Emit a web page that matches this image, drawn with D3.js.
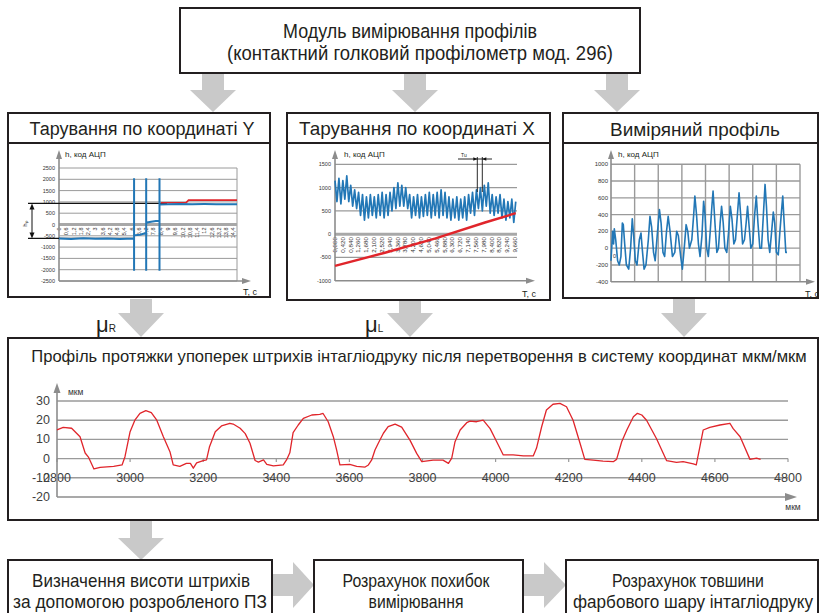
<!DOCTYPE html>
<html>
<head>
<meta charset="utf-8">
<script src="https://cdn.jsdelivr.net/npm/d3@7"></script>
<style>
  body { margin: 0; background: #fff; }
  svg { display: block; }
</style>
</head>
<body>
<svg id="scheme" width="820" height="613"></svg>
<script>
// ---------- Data ----------
// Profile after conversion to µm/µm coordinates
const profileX = [2800,2817,2840,2863,2877,2886,2901,2918,2955,2978,2986,3000,3013,3027,3043,3058,3073,3091,3109,3118,
  3136,3154,3165,3173,3182,3200,3209,3217,3233,3250,3273,3282,3301,3315,3328,3342,3351,3365,3374,3392,
  3419,3428,3437,3446,3460,3474,3497,3519,3528,3542,3556,3565,3574,3601,3620,3643,3652,3661,3670,3679,
  3693,3706,3725,3743,3766,3784,3798,3829,3856,3871,3880,3889,3903,3921,3930,3948,3966,3985,4003,4021,
  4048,4076,4103,4112,4126,4139,4157,4176,4194,4212,4231,4244,4267,4294,4322,4331,4345,4359,4377,4388,
  4400,4413,4440,4468,4495,4513,4541,4549,4559,4568,4586,4614,4641,4650,4669,4696,4714,4725];
const profileY = [15,16.3,15.8,11.4,2.9,0.8,-5.4,-4.6,-4,-3.3,1,14,20,23.6,25,24,20,11.4,3.6,-3.3,
  -4,-2.5,-2.5,-5,-2.2,-1,-0.7,6,14,17,18.4,18,15.8,13,8,-1,-1.8,-0.7,-3,-3.8,
  -3.3,-0.7,3,13.5,17.5,21,22.7,23,23.5,19.2,11.4,4.5,-3.3,-3,-4,-4.4,-3.3,-0.7,4.5,8,
  13.2,16.6,18,16.4,9.5,2.7,-1.6,-0.8,-0.8,-2.5,0.2,8.8,14.9,18.7,19.5,19.2,20,15.6,8.8,1.9,
  1.9,1.4,1.4,5.5,16.6,25.3,28.3,28.8,27,20,8,-0.4,-0.8,-1.3,-1.6,-0.4,8.8,14.9,21.8,23.6,
  22.7,20,10.5,-1.1,-2,-1.6,-2.8,-3.3,6.2,14.9,16.3,17.5,18.4,15.6,11.4,-0.4,0.2,-0.4];
const profileYTicks = [30, 20, 10, 0, -10, -20];
const profileXTicks = [2800, 3000, 3200, 3400, 3600, 3800, 4000, 4200, 4400, 4600, 4800];

// Calibration along Y (ADC code vs time, s)
const calYTicks = [2500, 2000, 1500, 1000, 500, 0, -500, -1000, -1500, -2000, -2500];
const calYLabels = ["0","0,6","1,2","1,8","2,4","3","3,6","4,2","4,8","5,4","6","6,6","7,2","7,8","8,4",
  "9","9,6","10,2","10,8","11,4","12","12,6","13,2","13,8","14,4"];
const calYSignalT = [0,1,2,3,4,5,6.2,6.2,6.2,6.2,6.7,7.2,7.2,7.2,7.2,7.6,8.0,8.3,8.3,8.3,8.3,9,10,11,12,13,14.7];
const calYSignalV = [-620,-640,-610,-630,-620,-640,-620,2050,-2050,-480,-450,-380,2050,-2050,80,120,150,160,2050,-2050,880,900,910,900,905,900,900];
const calYRefT = [8.4, 10.5, 10.7, 14.7];
const calYRefV = [960, 970, 1080, 1080];
const calYLevels = [934, -615];

// Calibration along X
const calXTicks = [1500, 1000, 500, 0, -500, -1000];
const calXLabels = ["0,000","0,420","0,840","1,260","1,680","2,100","2,520","2,940","3,360","3,780","4,200","4,620",
  "5,040","5,460","5,880","6,300","6,720","7,140","7,560","7,980","8,400","8,820","9,240","9,660"];
const calXSignal = [1150,700,1200,650,1150,750,1250,700, 1050,600,950,550, 900,400,850,300,800,350,850,400,
  800,350,850,400,900,350,850,400,900, 500,1000,550,1100,600,1050, 600,1000,550,
  850,350,800,400,850,350,800,380,850, 400,900,350,850,400,900, 350,950,400,900,350,
  800,300,750,350,800,300,750,350,800,300, 850,450,900,400,950, 550,1000,500,1050,600,1100,
  450,850,400,800,450,850, 350,750,300,700,350,750,250,700];
const calXTrendT = [0, 2.68, 5.4, 8.05, 9.7];
const calXTrendV = [-680, -400, -90, 250, 450];

// Measured profile (ADC code)
const measTicks = [1000, 800, 600, 400, 200, 0, -200, -400];
const measT = [0,0.07,0.11,0.14,0.2,0.28,0.35,0.42,0.48,0.52,0.58,0.65,0.75,0.83,0.9,0.96,1.03,1.1,1.2,1.27,
  1.32,1.4,1.48,1.58,1.65,1.72,1.8,1.87,1.97,2.05,2.12,2.2,2.27,2.35,2.42,2.5,2.6,2.7,2.78,2.85,
  2.95,3.02,3.1,3.18,3.25,3.32,3.42,3.5,3.55,3.62,3.7,3.77,3.85,3.92,3.98,4.05,4.12,4.2,4.27,4.32,
  4.4,4.48,4.55,4.62,4.68,4.75,4.82,4.9,4.98,5.05,5.12,5.2,5.27,5.35,5.42,5.5,5.57,5.65,5.72,5.78,
  5.85,5.92,6.0,6.08,6.15,6.22,6.3,6.37,6.45,6.52,6.58,6.65,6.72,6.8,6.87,6.93,7.0,7.08,7.15,7.22,
  7.27,7.33,7.4,7.45];
const measH = [-150,200,50,230,100,-150,-200,-100,300,280,50,-200,-250,0,350,150,-150,-200,100,180,
  0,-250,-200,100,380,250,-50,-150,200,460,300,-50,-100,200,380,200,-100,-50,200,150,
  -100,-250,0,280,200,0,100,400,620,400,50,-100,150,560,400,0,-100,200,500,680,
  300,-50,0,300,500,300,0,-50,200,500,350,50,100,400,660,350,50,100,300,500,
  250,0,50,400,620,300,0,0,400,760,500,100,-50,200,430,300,-50,-80,200,450,
  620,300,-50,-50];

// ---------- Styles ----------
const SANS = "'Liberation Sans',Arial,sans-serif";
const INK = "#231f20";
const ARROW = "#c9c9c9";
const AXIS = "#8c8c8c";
const GRID = "#9a9a9a";
const BLUE = "#2277b6";
const RED = "#e0252b";

const svg = d3.select("#scheme");

function text(g, x, y, s, o = {}) {
  const t = g.append("text").attr("x", x).attr("y", y).text(s)
    .attr("font-family", o.family || SANS)
    .attr("font-size", o.size || 10)
    .attr("fill", o.fill || INK)
    .attr("text-anchor", o.anchor || "start");
  if (o.baseline) t.attr("dominant-baseline", o.baseline);
  if (o.rotate !== undefined) t.attr("transform", `rotate(${o.rotate},${x},${y})`);
  return t;
}
// centred caption scaled horizontally to a given line width
function caption(cx, y, s, size, width) {
  const g = svg.append("g");
  const t = g.append("text").attr("x", 0).attr("y", 0).text(s)
    .attr("font-family", SANS).attr("font-size", size).attr("fill", INK)
    .attr("text-anchor", "middle");
  const natural = t.node().getComputedTextLength();
  const sx = width / natural;
  g.attr("transform", `translate(${cx},${y}) scale(${sx},1)`);
  return t;
}
function rect(x0, y0, x1, y1) {
  svg.append("rect").attr("x", x0).attr("y", y0).attr("width", x1 - x0).attr("height", y1 - y0)
    .attr("fill", "none").attr("stroke", INK).attr("stroke-width", 2);
}
function hline(g, x0, x1, y, color, w) {
  g.append("line").attr("x1", x0).attr("x2", x1).attr("y1", y).attr("y2", y)
    .attr("stroke", color).attr("stroke-width", w);
}
function vline(g, x, y0, y1, color, w) {
  g.append("line").attr("x1", x).attr("x2", x).attr("y1", y0).attr("y2", y1)
    .attr("stroke", color).attr("stroke-width", w);
}
// block arrows between the stages
function downArrow(cx, yTop, yNeck, yTip, sw = 22, hw = 46) {
  svg.append("path").attr("fill", ARROW)
    .attr("d", `M${cx - sw / 2},${yTop}V${yNeck}H${cx - hw / 2}L${cx},${yTip}L${cx + hw / 2},${yNeck}H${cx + sw / 2}V${yTop}Z`);
}
function rightArrow(xL, xNeck, xTip, cy, sw = 22, hw = 46) {
  svg.append("path").attr("fill", ARROW)
    .attr("d", `M${xL},${cy - sw / 2}H${xNeck}V${cy - hw / 2}L${xTip},${cy}L${xNeck},${cy + hw / 2}V${cy + sw / 2}H${xL}Z`);
}
// small axis arrow heads
function headUp(g, x, yTip, color, w = 7, h = 9) {
  g.append("path").attr("fill", color).attr("d", `M${x},${yTip}L${x - w / 2},${yTip + h}L${x + w / 2},${yTip + h}Z`);
}
function headRight(g, xTip, y, color, w = 9, h = 7) {
  g.append("path").attr("fill", color).attr("d", `M${xTip},${y}L${xTip - w},${y - h / 2}L${xTip - w},${y + h / 2}Z`);
}

// ---------- Block arrows ----------
[213, 415, 617].forEach(cx => downArrow(cx, 74, 90, 112));
[141, 410, 684].forEach(cx => downArrow(cx, 299, 313, 337));
downArrow(141, 521, 538, 560);
rightArrow(272, 293, 314, 585);
rightArrow(523, 544, 566, 585);

// ---------- Boxes & captions ----------
rect(180, 8, 640, 73);
caption(410, 38, "Модуль вимірювання профілів", 19.5, 254);
caption(420, 60, "(контактний голковий профілометр мод. 296)", 19.5, 386);

rect(8, 113, 270, 297); hline(svg, 8, 270, 143, INK, 2);
rect(287, 113, 550, 300); hline(svg, 287, 550, 143, INK, 2);
rect(563, 113, 818, 298); hline(svg, 563, 818, 143, INK, 2);
caption(142, 135, "Тарування по координаті Y", 18, 225);
caption(417, 135, "Тарування по координаті X", 18, 236);
caption(695, 136, "Виміряний профіль", 18, 170);

rect(8, 338, 818, 520);
caption(419, 362, "Профіль протяжки упоперек штрихів інтагліодруку після перетворення в систему координат мкм/мкм", 17, 776);

rect(8, 560, 272, 640);
rect(314, 560, 523, 640);
rect(566, 560, 818, 640);
caption(141, 587, "Визначення висоти штрихів", 17.5, 218);
caption(140, 608, "за допомогою розробленого ПЗ", 17.5, 254);
caption(416, 587, "Розрахунок похибок", 17.5, 147);
caption(416, 608, "вимірювання", 17.5, 95);
caption(688, 587, "Розрахунок товшини", 17.5, 152);
caption(693, 608, "фарбового шару інтагліодруку", 17.5, 240);

// scale coefficients
const mu1 = text(svg, 96, 332, "μ", { size: 22 });
mu1.append("tspan").attr("font-size", 10).text("R");
const mu2 = text(svg, 365, 332, "μ", { size: 22 });
mu2.append("tspan").attr("font-size", 10).text("L");

// ---------- Calibration along Y ----------
{
  const g = svg.append("g");
  const x = d3.scaleLinear([0, 14.7], [59, 237]);
  const y = d3.scaleLinear([-2500, 2500], [281, 168]);
  calYTicks.forEach(v => {
    if (v === 0) return;
    hline(g, 59, 237, y(v), GRID, 1);
    text(g, 55, y(v) + 2, String(v), { size: 5.5, anchor: "end", fill: "#333" });
  });
  text(g, 55, y(0) + 2, "0", { size: 5.5, anchor: "end", fill: "#333" });
  vline(g, 237, y(2500), y(-2500), GRID, 1);
  hline(g, 59, 237, y(0), "#a8a8a8", 3);
  calYLabels.forEach((s, i) => text(g, x(i * 0.6) + 2, y(0) + 3, s, { size: 5.5, anchor: "end", rotate: -90, fill: "#333" }));
  // axes
  vline(g, 59, 281, 158, AXIS, 1.6); headUp(g, 59, 150, AXIS, 6, 9);
  hline(g, 59, 243, 281, AXIS, 1.6); headRight(g, 251, 281, AXIS, 9, 6);
  text(g, 65, 157, "h, код АЦП", { size: 8 });
  text(g, 243, 295, "Т, с", { size: 9 });
  // reference levels and height marker
  hline(g, 28, 167, y(calYLevels[0]), "#111", 1.4);
  hline(g, 28, 133, y(calYLevels[1]), "#111", 1.4);
  vline(g, 32, y(calYLevels[0]) + 4, y(calYLevels[1]) - 4, "#111", 1);
  g.append("path").attr("fill", "#111").attr("d", `M32,${y(calYLevels[0])}l-2.5,6h5Z`);
  g.append("path").attr("fill", "#111").attr("d", `M32,${y(calYLevels[1])}l-2.5,-6h5Z`);
  text(g, 27, 224, "hₚ", { size: 6, anchor: "middle", rotate: -90 });
  // signals
  const line = d3.line().x(d => x(d[0])).y(d => y(d[1]));
  g.append("path").attr("d", line(d3.zip(calYRefT, calYRefV))).attr("fill", "none").attr("stroke", RED).attr("stroke-width", 1.6);
  g.append("path").attr("d", line(d3.zip(calYSignalT, calYSignalV))).attr("fill", "none").attr("stroke", BLUE).attr("stroke-width", 2);
}

// ---------- Calibration along X ----------
{
  const g = svg.append("g");
  const x = d3.scaleLinear([0, 9.66], [335, 515]);
  const y = d3.scaleLinear([-1000, 1500], [280.7, 164.3]);
  calXTicks.forEach(v => {
    if (v !== 0 && v !== -1000) hline(g, 335, 517, y(v), GRID, 1.3);
    text(g, 331, y(v) + 2, String(v), { size: 5.5, anchor: "end", fill: "#333" });
  });
  hline(g, 335, 517, y(0), "#a8a8a8", 3);
  calXLabels.forEach((s, i) => text(g, x(i * 0.42) + 2, y(0) + 3, s, { size: 6.2, anchor: "end", rotate: -90, fill: "#333" }));
  vline(g, 335, 281, 158, AXIS, 1.6); headUp(g, 335, 150, AXIS, 6, 9);
  hline(g, 335, 527, 280.7, AXIS, 1.6); headRight(g, 535, 280.7, AXIS, 9, 6);
  text(g, 344, 157, "h, код АЦП", { size: 8 });
  text(g, 522, 297, "Т, с", { size: 9 });
  const line = d3.line().x(d => x(d[0])).y(d => y(d[1]));
  const n = calXSignal.length;
  g.append("path").attr("d", line(calXSignal.map((v, i) => [i * 9.7 / (n - 1), v])))
    .attr("fill", "none").attr("stroke", BLUE).attr("stroke-width", 1.7).attr("stroke-linejoin", "round");
  g.append("path").attr("d", line(d3.zip(calXTrendT, calXTrendV))).attr("fill", "none").attr("stroke", RED).attr("stroke-width", 2.4);
  // period marker
  hline(g, 458, 492, 159, "#111", 0.9);
  vline(g, 477.3, 157, 192, "#111", 0.9);
  vline(g, 482.3, 157, 192, "#111", 0.9);
  g.append("path").attr("fill", "#111").attr("d", "M477.3,159l-4,-1.8v3.6Z");
  g.append("path").attr("fill", "#111").attr("d", "M482.3,159l4,-1.8v3.6Z");
  text(g, 461, 156.5, "Тu", { size: 5 });
}

// ---------- Measured profile ----------
{
  const g = svg.append("g");
  const x = d3.scaleLinear([0, 8], [611, 800]);
  const y = d3.scaleLinear([-400, 1000], [281.7, 164.3]);
  measTicks.forEach(v => {
    if (v !== -400) hline(g, 611, 800, y(v), GRID, 1.4);
    text(g, 608, y(v) + 2, String(v), { size: 6, anchor: "end", fill: "#333" });
  });
  d3.range(1, 9).forEach(i => vline(g, x(i), y(1000), y(-400), GRID, 1.4));
  text(g, 613, 258, "0", { size: 5.5, fill: "#333" });
  vline(g, 611, 282, 158, AXIS, 1.6); headUp(g, 611, 150, AXIS, 6, 9);
  hline(g, 611, 807, 281.7, AXIS, 1.6); headRight(g, 815, 281.7, AXIS, 9, 6);
  text(g, 618, 157, "h, код АЦП", { size: 8 });
  text(g, 805, 297, "Т, с", { size: 9 });
  const line = d3.line().x(d => x(d[0])).y(d => y(d[1]));
  g.append("path").attr("d", line(d3.zip(measT, measH))).attr("fill", "none")
    .attr("stroke", BLUE).attr("stroke-width", 1.6).attr("stroke-linejoin", "round");
}

// ---------- Profile in µm/µm ----------
{
  const g = svg.append("g");
  const x = d3.scaleLinear([2800, 4800], [57, 788]);
  const y = d3.scaleLinear([-20, 30], [497, 401]);
  const LAB = { size: 12.5, fill: "#404040" };
  profileYTicks.forEach(v => {
    if (v !== -20) hline(g, 57, 788, y(v), GRID, 1.4);
    text(g, 50, y(v), String(v), { ...LAB, anchor: "end", baseline: "central" });
  });
  profileXTicks.forEach(v => {
    vline(g, x(v), y(0), y(0) + 3.5, GRID, 1.2);
    text(g, x(v), y(-10), String(v), { ...LAB, anchor: "middle", baseline: "central" });
  });
  // axes
  vline(g, 57, y(-20), 391, AXIS, 1.6); headUp(g, 57, 383, AXIS, 7, 10);
  hline(g, 57, 788, y(-20), AXIS, 1.6); headRight(g, 797, y(-20), AXIS, 12, 8);
  text(g, 68, 395, "мкм", { size: 8.5, fill: "#333" });
  text(g, 793, 510, "мкм", { size: 8.5, fill: "#333", anchor: "middle" });
  const line = d3.line().x(d => x(d[0])).y(d => y(d[1]));
  g.append("path").attr("d", line(d3.zip(profileX, profileY))).attr("fill", "none")
    .attr("stroke", RED).attr("stroke-width", 1.3).attr("stroke-linejoin", "round");
}
</script>
</body>
</html>
